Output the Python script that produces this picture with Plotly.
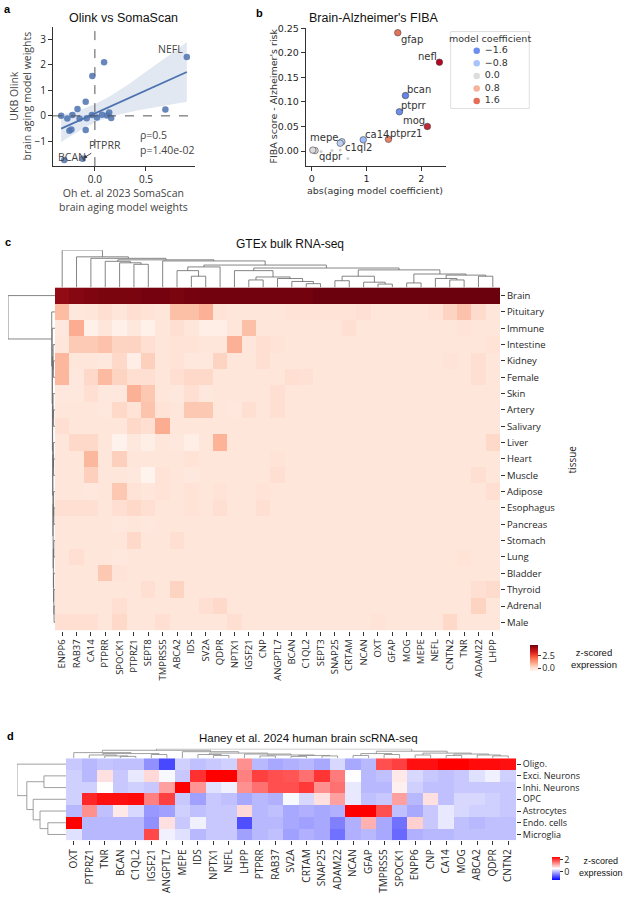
import numpy as np
import plotly.graph_objects as go

W, H = 624, 900
def fx(p): return p / W
def fy(p): return 1 - p / H

# ---------------- Panel a data ----------------
a_x = [0.90, 0.09, -0.025, 0.69, -0.09, -0.17, -0.33, -0.27, -0.22, -0.15, -0.08,
       -0.03, 0.02, 0.07, 0.12, 0.14, 0.16, -0.25, -0.23, -0.09, -0.30, -0.12]
a_y = [2.31, 2.10, 1.56, 0.25, 0.55, 0.27, 0.0, -0.10, 0.03, -0.10, -0.09,
       0.03, -0.06, 0.04, 0.01, 0.13, -0.08, -0.58, -0.53, -0.55, -1.73, -1.68]
a_named = {"NEFL": 0, "BCAN": 20, "PTPRR": 21}
a_stats = ["ρ=0.5", "p=1.40e-02"]

# ---------------- Panel b data ----------------
b_genes = ["gfap", "nefl", "bcan", "ptprr", "mog", "ptprz1", "ca14", "mepe", "c1ql2", "qdpr", ""]
b_coef = [1.57, 2.33, -1.71, -1.60, 2.11, 1.40, -0.94, -0.55, -0.52, 0.06, 0.02]
b_fiba = [0.241, 0.181, 0.113, 0.080, 0.050, 0.024, 0.023, 0.019, 0.016, 0.001, 0.002]
b_minor_abs = [0.17, 0.37, 0.52, 0.66]
b_minor_fiba = [-0.001, 0.001, 0.002, -0.015]
b_legend_vals = [-1.6, -0.8, 0.0, 0.8, 1.6]
b_legend_text = ["\u22121.6", "\u22120.8", "0.0", "0.8", "1.6"]

# ---------------- Panel c data ----------------
c_genes = ["ENPP6", "RAB37", "CA14", "PTPRR", "SPOCK1", "PTPRZ1", "SEPT8", "TMPRSS5", "ABCA2", "IDS",
           "SV2A", "QDPR", "NPTX1", "IGSF21", "CNP", "ANGPTL7", "BCAN", "C1QL2", "SEPT3", "SNAP25",
           "CRTAM", "NCAN", "OXT", "GFAP", "MOG", "MEPE", "NEFL", "CNTN2", "TNR", "ADAM22", "LHPP"]
c_tissues = ["Brain", "Pituitary", "Immune", "Intestine", "Kidney", "Female", "Skin", "Artery",
             "Salivary", "Liver", "Heart", "Muscle", "Adipose", "Esophagus", "Pancreas", "Stomach",
             "Lung", "Bladder", "Thyroid", "Adrenal", "Male"]
c_brain = [4.05, 4.2, 4.25, 4.3, 4.3, 4.3, 4.35, 4.35, 4.3, 4.35, 4.4, 4.4, 4.4, 4.4, 4.4, 4.4,
           4.4, 4.4, 4.45, 4.45, 4.45, 4.45, 4.45, 4.45, 4.45, 4.45, 4.45, 4.45, 4.45, 4.45, 4.45]
c_pituitary = [0.6, -0.22, -0.2, 0.0, -0.2, 0.0, -0.1, -0.2, 0.55, 0.55, 0.8, -0.1, -0.2, -0.2, -0.2, -0.2,
               -0.1, -0.1, -0.1, -0.1, -0.1, -0.05, -0.2, -0.2, -0.2, -0.2, -0.1, 0.2, 0.5, 0.05, -0.2]
c_immune = [-0.22, 0.87, -0.5, -0.2, -0.5, -0.22, -0.5, -0.2, 0.0, -0.2, -0.45, -0.45, -0.2, 0.55, -0.2, -0.2,
            -0.2, -0.2, -0.2, -0.2, 0.0, -0.2, -0.2, -0.2, -0.2, -0.2, -0.2, -0.2, -0.15, -0.2, -0.2]
c_intestine = [-0.2, 0.37, 0.37, 0.5, 0.2, 0.2, 0.0, -0.2, -0.1, -0.1, -0.2, -0.2, 0.8, -0.2, 0.0, -0.1,
               -0.2, -0.2, -0.2, -0.2, -0.2, -0.2, -0.2, -0.2, -0.2, -0.2, -0.2, -0.2, -0.2, -0.2, -0.1]
c_kidney = [0.7, -0.2, -0.2, -0.26, 0.1, -0.45, 0.26, -0.2, -0.1, -0.26, -0.26, 0.2, -0.2, -0.2, 0.0, -0.2,
            -0.2, -0.2, -0.2, -0.2, -0.2, -0.2, -0.2, -0.2, -0.2, -0.2, -0.2, -0.15, -0.2, 0.0, -0.2]
c_female = [0.7, -0.26, 0.1, 0.65, 0.2, 0.0, 0.0, -0.2, 0.0, 0.1, 0.1, -0.2, -0.2, -0.2, -0.2, -0.2,
            0.0, -0.05, -0.2, -0.2, -0.2, -0.2, -0.2, -0.2, -0.2, -0.2, -0.2, -0.2, -0.2, 0.0, -0.2]
c_skin = [-0.26, -0.26, 0.0, -0.26, -0.26, 0.8, 0.4, -0.2, -0.26, 0.0, -0.26, -0.2, -0.2, -0.2, -0.2, 0.0,
          -0.2, -0.2, -0.2, -0.2, -0.2, -0.2, -0.2, -0.2, -0.2, -0.2, -0.2, -0.2, -0.2, -0.2, -0.2]
c_artery = [-0.2, -0.2, -0.2, -0.26, 0.1, -0.1, 0.47, -0.1, -0.2, 0.4, 0.4, -0.2, -0.26, 0.0, -0.2, 0.0,
            -0.2, -0.2, -0.2, -0.2, -0.2, -0.2, -0.2, -0.2, -0.2, -0.2, -0.2, -0.2, -0.2, -0.2, -0.2]
c_salivary = [0.0, -0.2, -0.2, -0.2, -0.2, 0.1, 0.0, 0.87, -0.2, -0.2, -0.2, -0.2, -0.2, -0.2, -0.2, -0.2,
              -0.2, -0.2, -0.2, -0.2, -0.2, -0.2, -0.2, -0.2, -0.2, -0.2, -0.2, -0.2, -0.2, -0.2, -0.2]
c_liver = [-0.2, 0.1, 0.1, -0.2, -0.55, -0.26, -0.45, -0.2, -0.26, -0.45, -0.2, 0.75, -0.2, -0.2, -0.2, -0.2,
           -0.2, -0.2, -0.2, -0.2, -0.2, -0.2, -0.2, -0.2, -0.2, -0.2, -0.2, -0.2, -0.2, -0.2, 0.1]
c_heart = [-0.2, -0.2, 0.68, -0.2, 0.26, -0.2, -0.2, -0.2, -0.2, -0.1, -0.2, -0.2, -0.2, -0.2, -0.2, -0.1,
           -0.2, -0.2, -0.2, -0.2, -0.2, -0.2, -0.2, -0.2, -0.2, -0.2, -0.2, -0.2, -0.2, -0.2, -0.2]
c_muscle = [-0.2, -0.2, 0.26, -0.2, -0.2, -0.26, -0.6, -0.1, -0.2, -0.26, -0.2, -0.2, -0.2, -0.2, -0.2, 0.0,
            -0.2, -0.2, -0.2, -0.2, -0.2, -0.2, -0.2, -0.2, -0.2, -0.2, -0.2, -0.2, -0.2, 0.0, -0.2]
c_adipose = [-0.2, -0.2, -0.26, -0.2, 0.4, -0.1, -0.2, -0.1, -0.2, -0.1, -0.2, -0.1, -0.2, -0.2, -0.1, -0.2,
             -0.2, -0.2, -0.2, -0.2, -0.2, -0.2, -0.2, -0.2, -0.2, -0.2, -0.2, -0.2, -0.2, -0.2, 0.0]
c_esophagus = [0.0, 0.0, 0.0, -0.2, 0.0, 0.1, 0.0, -0.2, -0.2, -0.1, -0.2, 0.0, -0.2, -0.2, 0.0, -0.2,
               -0.2, -0.2, -0.2, -0.2, -0.2, -0.2, -0.2, -0.2, -0.2, -0.2, -0.2, -0.2, -0.2, -0.2, -0.2]
c_pancreas = [-0.2, -0.2, -0.2, -0.2, -0.26, -0.2, -0.26, -0.2, -0.2, -0.2, -0.2, -0.2, -0.2, -0.2, -0.2, -0.2,
              -0.2, -0.2, -0.2, -0.2, -0.2, -0.2, -0.2, -0.2, -0.2, -0.2, -0.2, -0.2, -0.2, -0.2, -0.2]
c_stomach = [-0.2, -0.2, -0.2, -0.2, -0.2, 0.1, -0.2, -0.2, 0.0, -0.2, -0.2, -0.2, -0.2, -0.2, -0.2, -0.2,
             -0.2, -0.2, -0.2, -0.2, -0.2, -0.2, -0.2, -0.2, -0.2, -0.2, -0.2, -0.2, -0.2, -0.2, -0.2]
c_lung = [-0.2, 0.0, -0.2, -0.2, -0.26, -0.2, -0.2, -0.2, -0.2, -0.2, -0.2, -0.2, -0.2, -0.2, -0.2, -0.2,
          -0.2, -0.2, -0.2, -0.2, -0.2, -0.2, -0.2, -0.2, -0.2, -0.2, -0.2, -0.2, -0.1, -0.2, -0.2]
c_bladder = [-0.2, -0.2, -0.2, 0.4, -0.15, -0.2, -0.2, -0.2, -0.2, -0.2, -0.2, -0.2, -0.2, -0.2, -0.2, -0.2,
             -0.2, -0.2, -0.2, -0.2, -0.2, -0.2, -0.2, -0.2, -0.2, -0.2, -0.2, -0.2, -0.2, -0.2, -0.2]
c_thyroid = [-0.2, -0.2, -0.2, -0.2, -0.2, -0.2, 0.0, -0.2, 0.2, -0.2, -0.2, -0.2, -0.2, -0.2, -0.2, -0.2,
             -0.2, -0.2, -0.2, -0.2, -0.2, -0.2, -0.2, -0.2, -0.2, -0.2, -0.2, -0.2, -0.2, 0.0, 0.05]
c_adrenal = [-0.2, -0.2, -0.2, -0.2, 0.0, -0.2, -0.2, -0.2, -0.2, -0.2, 0.0, 0.1, -0.2, -0.2, -0.2, -0.2,
             -0.2, -0.2, -0.2, -0.2, -0.2, -0.2, -0.2, -0.2, -0.2, -0.2, -0.2, -0.2, -0.2, 0.2, -0.2]
c_male = [0.0, 0.0, 0.0, -0.2, 0.1, -0.2, -0.2, 0.0, -0.2, -0.2, -0.2, -0.2, 0.0, -0.2, -0.2, -0.2,
          -0.2, -0.2, -0.2, -0.2, -0.2, -0.2, -0.1, -0.2, -0.2, -0.2, -0.2, 0.1, -0.2, -0.2, -0.2]
c_z = [c_brain, c_pituitary, c_immune, c_intestine, c_kidney, c_female, c_skin, c_artery, c_salivary,
       c_liver, c_heart, c_muscle, c_adipose, c_esophagus, c_pancreas, c_stomach, c_lung, c_bladder,
       c_thyroid, c_adrenal, c_male]
c_cbar_ticks = [0.0, 2.5]

# dendrograms: [height, left, right]; leaves are indices
c_top_tree = [1.0, 0, [0.82, 1, [0.78, 2, [0.74,
              [0.70, 3, [0.66, 4, [0.62, 5, 6]]],
              [0.71, 7, [0.60, [0.55, [0.45, 8, [0.30, 9, 10]], 11],
                         [0.52, [0.45, 12, [0.28, [0.20, 13, 14], [0.24, 15, [0.16, 16, [0.10, 17, 18]]]]],
                                [0.47, [0.30, [0.18, 19, 20], [0.14, 21, [0.09, 22, 23]]],
                                       [0.36, [0.12, 24, 25], [0.33, [0.24, 26, [0.20, 27, 28]], [0.30, 29, 30]]]]]]]]]]]
c_left_tree = [1.0, 0, [0.07, 1, [0.06, 2, [0.055, [0.04, 3, [0.035, 4, 5]],
               [0.05, [0.04, 6, [0.03, 7, 8]], [0.045, [0.035, 9, [0.03, 10, 11]],
               [0.04, [0.03, 12, [0.025, 13, 14]], [0.035, [0.025, 15, 16],
               [0.03, 17, [0.025, 18, [0.02, 19, 20]]]]]]]]]]]

# ---------------- Panel d data ----------------
d_genes = ["OXT", "PTPRZ1", "TNR", "BCAN", "C1QL2", "IGSF21", "ANGPTL7", "MEPE", "IDS", "NPTX1",
           "NEFL", "LHPP", "PTPRR", "RAB37", "SV2A", "CRTAM", "SNAP25", "ADAM22", "NCAN", "GFAP",
           "TMPRSS5", "SPOCK1", "ENPP6", "CNP", "CA14", "MOG", "ABCA2", "QDPR", "CNTN2"]
d_cells = ["Oligo.", "Exci. Neurons", "Inhi. Neurons", "OPC", "Astrocytes", "Endo. cells", "Microglia"]
d_oligo = [0.11, -0.01, 0.08, 0.05, 0.05, -0.31, -0.86, 0.17, 0.05, 0.11, 0.17, 1.36, -0.01, -0.13, -0.07,
           -0.01, -0.13, 0.23, -0.13, -0.01, 1.85, 1.97, 2.33, 2.33, 2.45, 2.45, 2.37, 2.37, 2.33]
d_exci = [0.17, -0.01, 0.76, 0.11, 0.35, 0.82, 0.47, 0.11, 2.09, 2.45, 2.45, 1.48, 1.97, 1.85, 1.81,
          1.60, 2.05, 1.53, 0.52, -0.01, 0.05, 0.70, 0.23, 0.11, 0.05, 0.11, 0.29, 0.41, 0.17]
d_inhi = [0.17, 0.17, 0.52, 0.11, 0.17, 0.11, 1.24, 2.45, 1.33, 0.29, 0.41, 1.36, 1.60, 1.85, 1.85,
          2.03, 1.36, 1.60, 0.35, -0.01, -0.01, 0.64, 0.17, 0.05, 0.05, 0.11, 0.11, 0.11, 0.11]
d_opc = [0.17, 2.15, 2.33, 2.33, 2.37, 1.48, 1.97, 0.11, -0.19, 0.11, 0.05, -0.13, -0.01, -0.07, 0.47,
         0.23, 0.76, 1.24, 0.35, 0.05, 0.11, 1.24, -0.01, 0.76, 0.05, 0.23, 0.23, 0.17, 0.11]
d_astro = [-0.01, 1.36, 0.05, 0.70, 0.23, -0.25, -0.19, 0.17, 0.05, 0.11, 0.11, 0.82, -0.01, 0.05, -0.13,
           -0.07, -0.13, -0.07, 2.45, 2.45, 1.85, 0.05, -0.13, 0.11, 0.35, 0.23, 0.17, 0.17, 0.11]
d_endo = [2.45, -0.01, -0.01, -0.01, -0.01, -0.31, 0.76, 0.11, 0.41, 0.11, 0.11, -0.80, -0.01, -0.01, -0.13,
          -0.19, -0.13, -0.43, -0.07, 1.12, -0.13, -0.55, 0.88, 0.11, 0.35, 0.05, -0.01, 0.05, 0.05]
d_micro = [0.29, -0.01, -0.01, -0.01, -0.01, 1.91, 0.41, 0.29, -0.01, 0.11, 0.11, -0.19, -0.01, 0.05, -0.19,
           -0.07, -0.13, -0.55, -0.07, -0.01, -0.13, -0.61, -0.07, -0.01, -0.01, 0.05, 0.05, 0.05, 0.05]
d_z = [d_oligo, d_exci, d_inhi, d_opc, d_astro, d_endo, d_micro]
d_cbar_ticks = [0, 2]
d_top_tree = [1.0, [0.85, [0.6, 0, [0.5, [0.35, 1, [0.25, 2, [0.2, 3, 4]]], [0.4, 5, 6]]],
                     [0.7, 7, [0.55, [0.4, 8, [0.3, 9, 10]], [0.45, 11, [0.35, [0.25, 12, 13],
                                                                        [0.3, [0.2, 14, 15], [0.25, 16, 17]]]]]]],
              [0.75, [0.5, [0.3, 18, 19], [0.4, 20, 21]],
                     [0.55, [0.35, 22, 23], [0.45, [0.3, 24, 25], [0.35, 26, [0.25, 27, 28]]]]]]
d_left_tree = [1.0, 0, [0.80, [0.45, 1, 2], [0.67, 3, [0.53, 4, [0.37, 5, 6]]]]]

# ---------------- helpers ----------------
TXT = "#262626"
TICKF = dict(family="Open Sans", size=10, color=TXT)
COOLWARM = [[0.0, "#3b4cc0"], [0.125, "#6282ea"], [0.25, "#8db0fe"], [0.375, "#b8d0f9"], [0.5, "#dddddd"],
            [0.625, "#f5c4ad"], [0.75, "#f49a7b"], [0.875, "#de604d"], [1.0, "#b40426"]]
REDS = [[0.0, "rgb(255,245,240)"], [0.125, "rgb(254,224,210)"], [0.25, "rgb(252,187,161)"],
        [0.375, "rgb(252,146,114)"], [0.5, "rgb(251,106,74)"], [0.625, "rgb(239,59,44)"],
        [0.75, "rgb(203,24,29)"], [0.875, "rgb(165,15,21)"], [1.0, "rgb(103,0,13)"]]
BWR = [[0.0, "rgb(0,0,255)"], [0.5, "rgb(255,255,255)"], [1.0, "rgb(255,0,0)"]]

def dendro(tree):
    xs, ys = [], []
    def rec(node):
        if isinstance(node, int):
            return float(node), 0.0
        h, l, r = node
        pl, hl = rec(l)
        pr, hr = rec(r)
        xs.extend([pl, pl, pr, pr, None])
        ys.extend([hl, h, h, hr, None])
        return (pl + pr) / 2, h
    rec(tree)
    return xs, ys

def dom_x(a, b): return [fx(a), fx(b)]
def dom_y(top, bottom): return [fy(bottom), fy(top)]

fig = go.Figure()
annotations = []
shapes = []

def ann(text, x, y, size=10, family="Open Sans", color=TXT, xanchor="center", yanchor="middle", **kw):
    annotations.append(dict(text=text, x=fx(x), y=fy(y), xref="paper", yref="paper", showarrow=False,
                            font=dict(size=size, family=family, color=color),
                            xanchor=xanchor, yanchor=yanchor, **kw))

# ================= Panel a =================
xa = np.array(a_x); ya = np.array(a_y)
slope, intercept = np.polyfit(xa, ya, 1)
xs = np.linspace(xa.min(), xa.max(), 100)
yhat = intercept + slope * xs
n = len(xa)
resid = ya - (intercept + slope * xa)
s = np.sqrt(np.sum(resid ** 2) / (n - 2))
sxx = np.sum((xa - xa.mean()) ** 2)
se = s * np.sqrt(1 / n + (xs - xa.mean()) ** 2 / sxx)
tval = 2.086
upper = yhat + tval * se
lower = yhat - tval * se
fig.add_trace(go.Scatter(x=np.concatenate([xs, xs[::-1]]), y=np.concatenate([upper, lower[::-1]]),
                         fill="toself", fillcolor="rgba(76,114,176,0.16)", line=dict(width=0),
                         hoverinfo="skip", xaxis="x", yaxis="y"))
fig.add_trace(go.Scatter(x=a_x, y=a_y, mode="markers",
                         marker=dict(color="rgba(76,114,176,0.85)", size=6.5), xaxis="x", yaxis="y"))
fig.add_trace(go.Scatter(x=xs, y=yhat, mode="lines", line=dict(color="#4c72b0", width=1.8),
                         xaxis="x", yaxis="y"))
shapes.append(dict(type="line", xref="x", yref="y domain", x0=0, x1=0, y0=0, y1=1,
                   line=dict(color="#555", width=1, dash="dash")))
shapes.append(dict(type="line", xref="x domain", yref="y", x0=0, x1=1, y0=0, y1=0,
                   line=dict(color="#555", width=1, dash="dash")))
i = a_named["NEFL"]
annotations.append(dict(text="NEFL", x=a_x[i], y=a_y[i], xref="x", yref="y", showarrow=False,
                        xanchor="right", yanchor="middle", xshift=-2, yshift=8,
                        font=dict(size=10.5, family="Open Sans", color="#444")))
i = a_named["BCAN"]
annotations.append(dict(text="BCAN", x=a_x[i], y=a_y[i], xref="x", yref="y", showarrow=False,
                        xanchor="center", yanchor="middle", xshift=8, yshift=3,
                        font=dict(size=10.5, family="Open Sans", color="#444")))
i = a_named["PTPRR"]
annotations.append(dict(text="PTPRR", x=a_x[i], y=a_y[i], xref="x", yref="y", showarrow=True,
                        ax=22, ay=-14, arrowhead=2, arrowsize=0.8, arrowwidth=0.9, arrowcolor="#333",
                        standoff=1, font=dict(size=10.5, family="Open Sans", color="#444")))
ann(a_stats[0], 138, 130.5, size=10.5, xanchor="left", color="#444")
ann(a_stats[1], 138, 146, size=10.5, xanchor="left", color="#444")
ann("Olink vs SomaScan", 123, 13, size=12.5, family="Liberation Sans", color="#111")
ann("Oh et. al 2023 SomaScan<br>brain aging model weights", 124, 196, size=10.5, color="#444")
ann("UKB Olink<br>brain aging model weights", 21, 92, size=10.5, color="#444", textangle=-90)
ann("<b>a</b>", 2, 4, size=11, family="Liberation Sans", color="#000", xanchor="left")

# ================= Panel b =================
b_abs = np.abs(np.array(b_coef))
fig.add_trace(go.Scatter(x=b_minor_abs, y=b_minor_fiba, mode="markers",
                         marker=dict(color="#d0d0d0", size=3), xaxis="x2", yaxis="y2"))
fig.add_trace(go.Scatter(x=b_abs, y=b_fiba, mode="markers",
                         marker=dict(color=b_coef, colorscale=COOLWARM, cmin=-2.33, cmax=2.33, size=6.5,
                                     line=dict(color="#444", width=0.6)),
                         xaxis="x2", yaxis="y2"))
b_label_pos = {"gfap": ("left", 1, -7), "nefl": ("right", 0, 6), "bcan": ("left", 0, 6),
               "ptprr": ("left", 0, 6), "mog": ("right", 0, 6), "ptprz1": ("left", 0, 6),
               "ca14": ("left", 0, 5), "mepe": ("right", -2, 4), "c1ql2": ("left", 3, -4),
               "qdpr": ("left", 2, -6)}
for g, xv, yv in zip(b_genes, b_abs, b_fiba):
    if g in b_label_pos:
        xa_, xs_, ys_ = b_label_pos[g]
        annotations.append(dict(text=g, x=xv, y=yv, xref="x2", yref="y2", showarrow=False,
                                xanchor=xa_, yanchor="middle", xshift=xs_, yshift=ys_,
                                font=dict(size=10, family="DejaVu Sans", color="#333")))
ann("Brain-Alzheimer's FIBA", 373.5, 13, size=12.5, family="Liberation Sans", color="#111")
ann("abs(aging model coefficient)", 375, 187, size=9.5, family="DejaVu Sans", color="#333")
ann("FIBA score - Alzheimer's risk", 273, 92, size=9.5, family="DejaVu Sans", color="#333", textangle=-90)
ann("<b>b</b>", 254, 8, size=11, family="Liberation Sans", color="#000", xanchor="left")

# legend (manual)
shapes.append(dict(type="rect", xref="paper", yref="paper", x0=fx(450.7), x1=fx(529.3),
                   y0=fy(104), y1=fy(26.7), line=dict(color="#d5d5d5", width=0.8),
                   fillcolor="rgba(0,0,0,0)"))
ann("model coefficient", 490, 33.5, size=9.5, family="DejaVu Sans", color="#333")
fig.add_trace(go.Scatter(x=[476.7] * 5, y=[46, 58.7, 71.3, 84, 96.5], mode="markers+text",
                         text=[" " + t for t in b_legend_text], textposition="middle right",
                         textfont=dict(size=9.5, family="DejaVu Sans", color="#333"),
                         marker=dict(color=b_legend_vals, colorscale=COOLWARM, cmin=-2.33, cmax=2.33, size=6.5),
                         xaxis="x3", yaxis="y3", cliponaxis=False))

# ================= Panel c =================
HC_L, HC_R, HC_T, HC_B = 55, 500, 284, 629
nc, nr = len(c_genes), len(c_tissues)
fig.add_trace(go.Heatmap(z=c_z, x=list(range(nc)), y=list(range(nr)), colorscale=REDS, zmin=-0.66, zmax=4.5,
                         xaxis="x4", yaxis="y4",
                         colorbar=dict(x=fx(530), xanchor="left", y=fy(657), yanchor="middle", len=26,
                                       lenmode="pixels", thickness=8, thicknessmode="pixels", xpad=0, ypad=0,
                                       outlinewidth=0, tickvals=c_cbar_ticks, ticktext=["0.0", "2.5"],
                                       ticks="outside", ticklen=3, tickcolor="#333",
                                       tickfont=dict(size=9, family="Open Sans", color=TXT))))
tx, ty = dendro(c_top_tree)
fig.add_trace(go.Scatter(x=tx, y=ty, mode="lines", line=dict(color="#666", width=0.8),
                         xaxis="x5", yaxis="y5", cliponaxis=False))
lx, ly = dendro(c_left_tree)
fig.add_trace(go.Scatter(x=ly, y=lx, mode="lines", line=dict(color="#666", width=0.8),
                         xaxis="x6", yaxis="y6", cliponaxis=False))
ann("GTEx bulk RNA-seq", 290, 240, size=12, family="Liberation Sans", color="#111")
ann("<b>c</b>", 3, 238, size=11, family="Liberation Sans", color="#000", xanchor="left")
ann("tissue", 572, 457, size=10, color=TXT, textangle=-90)
ann("z-scored<br>expression", 569, 657, size=9.5, family="Liberation Sans", color="#111", xanchor="left")

# ================= Panel d =================
HD_L, HD_R, HD_T, HD_B = 66, 516, 757.5, 840
ncd, nrd = len(d_genes), len(d_cells)
fig.add_trace(go.Heatmap(z=d_z, x=list(range(ncd)), y=list(range(nrd)), colorscale=BWR, zmin=-1.4, zmax=2.45,
                         xaxis="x7", yaxis="y7",
                         colorbar=dict(x=fx(552), xanchor="left", y=fy(868.5), yanchor="middle", len=23,
                                       lenmode="pixels", thickness=8, thicknessmode="pixels", xpad=0, ypad=0,
                                       outlinewidth=0, tickvals=d_cbar_ticks, ticktext=["0", "2"],
                                       ticks="outside", ticklen=3, tickcolor="#333",
                                       tickfont=dict(size=9, family="Open Sans", color=TXT))))
tx, ty = dendro(d_top_tree)
fig.add_trace(go.Scatter(x=tx, y=ty, mode="lines", line=dict(color="#888", width=0.8),
                         xaxis="x8", yaxis="y8", cliponaxis=False))
lx, ly = dendro(d_left_tree)
fig.add_trace(go.Scatter(x=ly, y=lx, mode="lines", line=dict(color="#888", width=0.8),
                         xaxis="x9", yaxis="y9", cliponaxis=False))
ann("Haney et al. 2024 human brain scRNA-seq", 308, 737, size=11.5, family="Liberation Sans", color="#111")
ann("<b>d</b>", 5, 735, size=11, family="Liberation Sans", color="#000", xanchor="left")
ann("z-scored<br>expression", 577, 867, size=9, family="Liberation Sans", color="#111", xanchor="left")

# ================= Axes =================
spine = dict(showline=True, linecolor="#333", linewidth=1, ticks="outside", ticklen=4, tickcolor="#333",
             showgrid=False, zeroline=False, tickfont=TICKF)
hidden = dict(visible=False, showgrid=False, zeroline=False, fixedrange=True)
bfont = dict(family="DejaVu Sans", size=9.5, color=TXT)

layout_axes = dict(
    xaxis=dict(domain=dom_x(53, 195), range=[-0.41, 0.98], tickvals=[0, 0.5], ticktext=["0.0", "0.5"],
               anchor="y", **spine),
    yaxis=dict(domain=dom_y(22, 162), range=[-1.97, 3.49], tickvals=[-1, 0, 1, 2, 3], anchor="x", **spine),
    xaxis2=dict(domain=dom_x(305.7, 446), range=[-0.11, 2.45], tickvals=[0, 1, 2], anchor="y2",
                **{**spine, "tickfont": bfont}),
    yaxis2=dict(domain=dom_y(22.7, 161.7), range=[-0.030, 0.2515], tickvals=[0, 0.05, 0.1, 0.15, 0.2, 0.25],
                tickformat=".2f", anchor="x2", **{**spine, "tickfont": bfont}),
    xaxis3=dict(domain=dom_x(450.7, 529.3), range=[450.7, 529.3], anchor="y3", **hidden),
    yaxis3=dict(domain=dom_y(26.7, 104), range=[104, 26.7], anchor="x3", **hidden),
    xaxis4=dict(domain=dom_x(HC_L, HC_R), range=[-0.5, nc - 0.5], tickvals=list(range(nc)), ticktext=c_genes,
                tickangle=-90, anchor="y4", ticks="outside", ticklen=4, tickcolor="#333", showgrid=False,
                zeroline=False, showline=False, tickfont=dict(family="Open Sans", size=9.5, color=TXT)),
    yaxis4=dict(domain=dom_y(HC_T, HC_B), range=[nr - 0.5, -0.5], tickvals=list(range(nr)), ticktext=c_tissues,
                side="right", anchor="x4", ticks="outside", ticklen=4, tickcolor="#333", showgrid=False,
                zeroline=False, showline=False, tickfont=dict(family="Open Sans", size=9.5, color=TXT)),
    xaxis5=dict(domain=dom_x(HC_L, HC_R), range=[-0.5, nc - 0.5], anchor="y5", **hidden),
    yaxis5=dict(domain=dom_y(246.5, HC_T), range=[0, 1.0], anchor="x5", **hidden),
    xaxis6=dict(domain=dom_x(8, HC_L), range=[1.0, 0], anchor="y6", **hidden),
    yaxis6=dict(domain=dom_y(HC_T, HC_B), range=[nr - 0.5, -0.5], anchor="x6", **hidden),
    xaxis7=dict(domain=dom_x(HD_L, HD_R), range=[-0.5, ncd - 0.5], tickvals=list(range(ncd)), ticktext=d_genes,
                tickangle=-90, anchor="y7", ticks="outside", ticklen=4, tickcolor="#333", showgrid=False,
                zeroline=False, showline=False, tickfont=dict(family="Open Sans", size=10, color=TXT)),
    yaxis7=dict(domain=dom_y(HD_T, HD_B), range=[nrd - 0.5, -0.5], tickvals=list(range(nrd)), ticktext=d_cells,
                side="right", anchor="x7", ticks="outside", ticklen=4, tickcolor="#333", showgrid=False,
                zeroline=False, showline=False, tickfont=dict(family="Open Sans", size=9, color=TXT)),
    xaxis8=dict(domain=dom_x(HD_L, HD_R), range=[-0.5, ncd - 0.5], anchor="y8", **hidden),
    yaxis8=dict(domain=dom_y(748, HD_T), range=[0, 1.0], anchor="x8", **hidden),
    xaxis9=dict(domain=dom_x(17, HD_L), range=[1.0, 0], anchor="y9", **hidden),
    yaxis9=dict(domain=dom_y(HD_T, HD_B), range=[nrd - 0.5, -0.5], anchor="x9", **hidden),
)

fig.update_layout(width=W, height=H, margin=dict(l=0, r=0, t=0, b=0), paper_bgcolor="white",
                  plot_bgcolor="white", showlegend=False, annotations=annotations, shapes=shapes,
                  font=dict(family="Open Sans", color=TXT), **layout_axes)

fig.write_html("out.html", config={"displayModeBar": False},
               post_script="document.body.style.margin='0px';document.body.style.overflow='hidden';")
